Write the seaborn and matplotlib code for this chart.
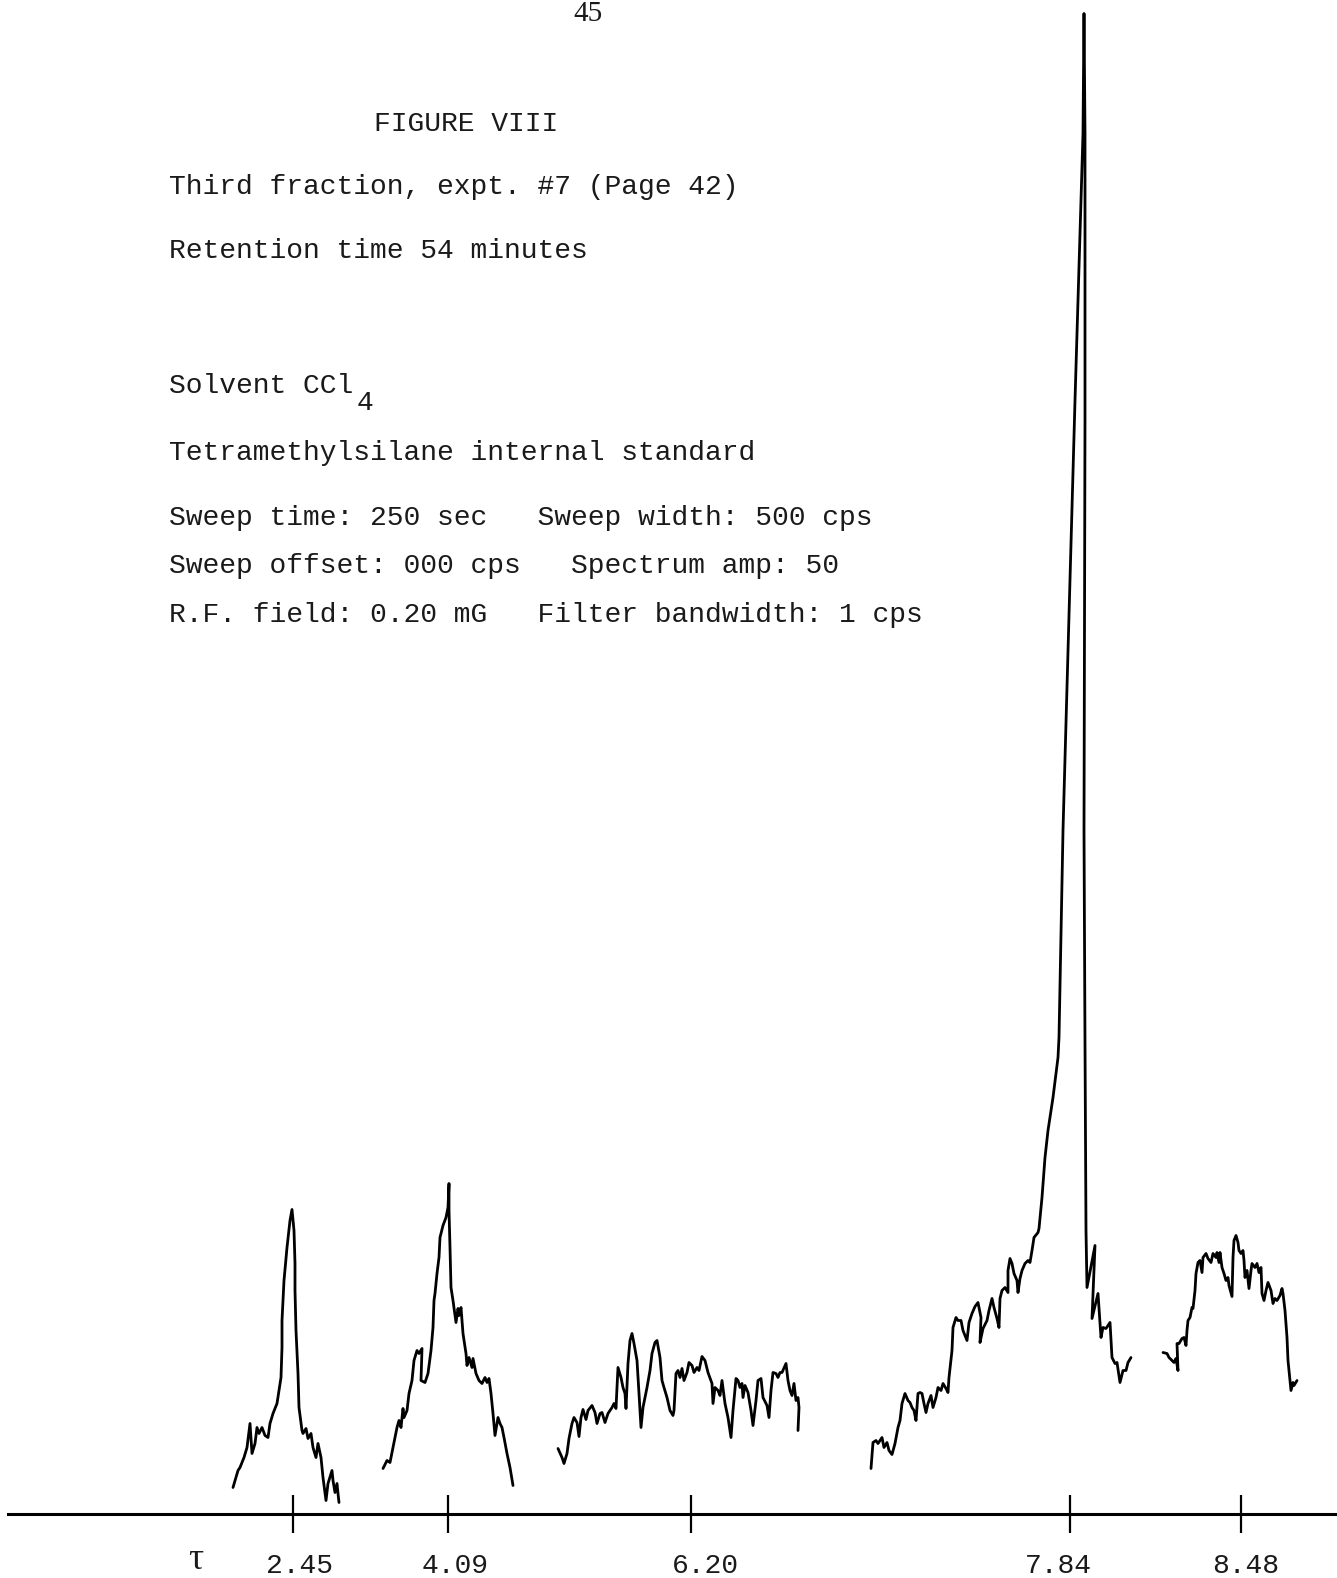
import numpy as np
import pandas as pd
import matplotlib
matplotlib.use("Agg")
import matplotlib.pyplot as plt
import seaborn as sns

# Page size in pixels and the page row of the recorder baseline
W, H = 1337, 1578
BASE_Y = 1513.5

# Recorder trace, five sweep segments: (chart position, pen deflection above baseline)
seg1 = np.array([
    (233, 26), (238, 43), (240, 46), (244, 56), (247, 66), (250, 90), (252, 60), (255, 70),
    (257, 86), (259, 80), (262, 86), (265, 78), (268, 76), (270, 90), (273, 100), (277, 110),
    (279, 123), (281, 136), (282, 166), (282, 193), (284, 233), (287, 266), (290, 293),
    (292, 304), (294, 283), (295, 250), (295, 223), (296, 183), (298, 140), (299, 106),
    (302, 83), (303, 80), (306, 85), (308, 75), (311, 80), (313, 66), (316, 56), (318, 70),
    (321, 56), (323, 36), (326, 13), (328, 30), (332, 43), (333, 33), (335, 21), (337, 30),
    (338, 20), (339, 11)])

seg2 = np.array([
    (383, 45), (387, 53), (390, 51), (393, 66), (397, 86), (399, 93), (401, 86), (403, 105),
    (404, 96), (407, 103), (409, 120), (412, 133), (414, 153), (417, 163), (419, 160),
    (422, 165), (421, 133), (425, 131), (428, 140), (431, 163), (433, 186), (434, 213),
    (435, 220), (437, 240), (439, 256), (440, 276), (443, 288), (446, 296), (448, 306),
    (449, 330), (449, 303), (450, 266), (451, 226), (453, 213), (456, 191), (458, 205),
    (459, 198), (461, 206), (463, 180), (466, 160), (467, 148), (469, 156), (472, 146),
    (473, 155), (476, 140), (479, 133), (482, 130), (485, 136), (487, 131), (489, 135),
    (491, 120), (493, 100), (495, 78), (498, 96), (500, 90), (502, 86), (504, 76), (507, 60),
    (510, 46), (513, 28)])

seg3 = np.array([
    (558, 65), (562, 56), (564, 50), (567, 60), (569, 75), (572, 90), (574, 96), (577, 91),
    (579, 77), (581, 96), (583, 104), (586, 94), (588, 103), (592, 108), (595, 101), (597, 90),
    (600, 100), (602, 101), (605, 91), (608, 100), (612, 106), (614, 110), (616, 105),
    (617, 126), (618, 146), (621, 136), (623, 126), (625, 120), (626, 105), (628, 150),
    (630, 173), (632, 180), (634, 170), (637, 153), (639, 120), (641, 86), (643, 106),
    (647, 126), (650, 143), (652, 160), (655, 171), (657, 173), (660, 156), (662, 133),
    (664, 126), (667, 116), (670, 103), (673, 98), (674, 103), (676, 140), (678, 143),
    (680, 136), (682, 145), (684, 133), (687, 141), (689, 151), (692, 148), (694, 141),
    (697, 146), (699, 143), (702, 157), (705, 153), (708, 141), (712, 130), (713, 110),
    (715, 126), (718, 123), (720, 118), (722, 133), (725, 110), (728, 96), (731, 76),
    (733, 103), (736, 135), (738, 133), (740, 126), (742, 130), (743, 116), (745, 128),
    (748, 121), (751, 103), (753, 88), (756, 113), (758, 133), (761, 135), (763, 116),
    (767, 108), (769, 96), (771, 123), (773, 141), (776, 140), (778, 136), (780, 141),
    (782, 141), (786, 150), (788, 133), (790, 123), (792, 118), (794, 130), (796, 113),
    (798, 116), (799, 106), (798, 83)])

seg4 = np.array([
    (871, 45), (873, 71), (876, 73), (878, 70), (882, 76), (884, 66), (887, 71), (889, 63),
    (892, 59), (895, 70), (898, 86), (900, 93), (902, 110), (905, 120), (908, 113), (910, 111),
    (912, 106), (914, 103), (916, 93), (918, 120), (920, 121), (922, 120), (924, 110),
    (926, 101), (928, 110), (931, 118), (933, 106), (936, 116), (938, 126), (941, 123),
    (943, 130), (946, 125), (948, 121), (949, 136), (952, 163), (953, 186), (956, 196),
    (958, 193), (961, 193), (963, 183), (967, 173), (969, 191), (972, 200), (975, 207),
    (978, 211), (981, 196), (980, 171), (983, 185), (987, 193), (989, 203), (992, 215),
    (994, 206), (997, 195), (999, 186), (1000, 215), (1002, 223), (1005, 226), (1008, 221),
    (1008, 243), (1010, 255), (1012, 250), (1014, 240), (1017, 233), (1018, 221), (1020, 235),
    (1022, 243), (1025, 250), (1028, 253), (1030, 251), (1032, 263), (1034, 276), (1038, 281),
    (1039, 285), (1042, 316), (1045, 356), (1048, 383), (1053, 416), (1058, 456), (1059, 476),
    (1063, 683), (1075, 1113), (1083, 1380), (1084, 1500), (1085, 1380), (1085, 1093),
    (1084, 683), (1085, 470), (1086, 283), (1087, 226), (1095, 268), (1092, 195), (1098, 220),
    (1101, 176), (1103, 186), (1106, 185), (1110, 191), (1112, 156), (1115, 150), (1117, 151),
    (1120, 131), (1123, 143), (1126, 143), (1128, 151), (1131, 156)])

seg5 = np.array([
    (1163, 161), (1167, 160), (1169, 156), (1172, 153), (1174, 151), (1176, 155), (1178, 143),
    (1177, 170), (1179, 170), (1182, 175), (1184, 176), (1186, 168), (1187, 183), (1188, 193),
    (1190, 196), (1192, 206), (1193, 205), (1195, 223), (1196, 240), (1198, 251), (1200, 253),
    (1202, 241), (1203, 256), (1206, 260), (1208, 255), (1211, 251), (1213, 260), (1216, 256),
    (1217, 261), (1219, 251), (1220, 261), (1222, 246), (1224, 240), (1226, 233), (1228, 236),
    (1229, 228), (1232, 217), (1233, 256), (1234, 273), (1236, 278), (1238, 271), (1239, 263),
    (1241, 260), (1243, 263), (1244, 253), (1245, 236), (1247, 243), (1249, 225), (1251, 243),
    (1252, 250), (1255, 246), (1257, 250), (1259, 241), (1261, 246), (1262, 220), (1264, 213),
    (1266, 223), (1268, 231), (1271, 223), (1273, 210), (1275, 215), (1277, 213), (1280, 218),
    (1282, 225), (1283, 220), (1285, 203), (1287, 176), (1288, 153), (1291, 123), (1293, 131),
    (1294, 128), (1297, 133)])

segments = [seg1, seg2, seg3, seg4, seg5]

# tau scale marks and their labels
tick_pos = [293, 448, 691, 1070, 1241]
tick_labels = ["2.45", "4.09", "6.20", "7.84", "8.48"]
label_pos = [299, 455, 705, 1058, 1246]

INK = "#1a1a1a"
MONO = ["Liberation Mono", "DejaVu Sans Mono"]
SERIF = ["Liberation Serif", "DejaVu Serif"]
TEXT_SIZE = 20.15

sns.set_theme(style="white")
plt.rcParams["font.family"] = MONO

fig = plt.figure(figsize=(W / 100, H / 100), dpi=100, facecolor="white")
ax = fig.add_axes([8 / W, (H - BASE_Y) / H, 1 - 8 / W, BASE_Y / H])
ax.set_facecolor("none")

df = pd.concat(
    [pd.DataFrame(s, columns=["pos", "defl"]).assign(segment=i) for i, s in enumerate(segments)],
    ignore_index=True)
sns.lineplot(data=df, x="pos", y="defl", units="segment", estimator=None, sort=False,
             color="black", linewidth=2.0, legend=False, ax=ax)
for ln in ax.lines:
    ln.set_clip_on(False)
    ln.set_solid_joinstyle("round")
    ln.set_solid_capstyle("round")

ax.set_xlim(8, W)
ax.set_ylim(0, BASE_Y)
ax.set_xlabel("")
ax.set_ylabel("")
ax.set_yticks([])
ax.set_xticks(tick_pos, labels=[""] * len(tick_pos))
ax.tick_params(axis="x", bottom=True, direction="inout", length=28, width=1.6,
               color="black", pad=0)
for side in ("left", "top", "right"):
    ax.spines[side].set_visible(False)
ax.spines["bottom"].set_color("black")
ax.spines["bottom"].set_linewidth(2.2)

# tau scale labels below the baseline
label_row = BASE_Y - 1566
for lp, lab in zip(label_pos, tick_labels):
    ax.text(lp, label_row, lab, ha="center", va="center", fontsize=TEXT_SIZE, color=INK,
            family=MONO, clip_on=False)
ax.text(196, label_row + 6, "τ", ha="center", va="center", fontsize=27, color=INK,
        family=SERIF, clip_on=False)


def page_text(x, y, s, size=TEXT_SIZE, family=MONO, ha="left"):
    fig.text(x / W, 1 - y / H, s, ha=ha, va="baseline", fontsize=size,
             color=INK, family=family)


page_text(588, 21, "45", size=21, family=SERIF, ha="center")
page_text(374, 131, "FIGURE VIII")
page_text(169, 194, "Third fraction, expt. #7 (Page 42)")
page_text(169, 258, "Retention time 54 minutes")
page_text(169, 393, "Solvent CCl")
page_text(357, 410, "4")
page_text(169, 460, "Tetramethylsilane internal standard")
page_text(169, 525, "Sweep time: 250 sec   Sweep width: 500 cps")
page_text(169, 573, "Sweep offset: 000 cps   Spectrum amp: 50")
page_text(169, 622, "R.F. field: 0.20 mG   Filter bandwidth: 1 cps")

fig.savefig("out.png", dpi=100, facecolor="white")
